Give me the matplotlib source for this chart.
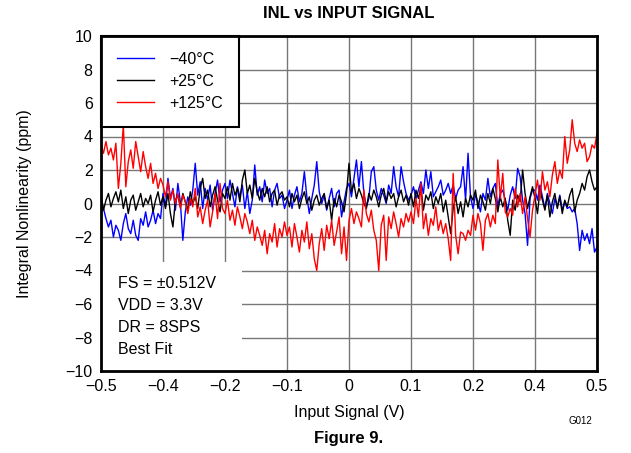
import numpy as np
import matplotlib
matplotlib.use("Agg")
import matplotlib.pyplot as plt
from matplotlib.patches import Rectangle

plt.rcParams['font.family'] = ['Liberation Sans', 'DejaVu Sans']

# ---------------- data ----------------
x_min, x_max = -0.5, 0.5
xtick_labels = ['\u22120.5', '\u22120.4', '\u22120.2', '\u22120.1', '0', '0.1', '0.2', '0.4', '0.5']
ytick_values = [10, 8, 6, 4, 2, 0, -2, -4, -6, -8, -10]
series_names = ['\u221240\u00b0C', '+25\u00b0C', '+125\u00b0C']

inl_m40 = [
    0.2, -0.3, -0.9, -1.4, -1.0, -2.0, -1.3, -1.6, -2.2, -1.2, -0.6, -1.5, -1.8, -1.0, -1.9, -2.2, -0.9, -1.3, -0.5, -1.4, -1.0, -0.4, -1.2, -0.6, -0.9,
    0.6, -0.2, 1.5, 0.3, 0.9, -0.4, 1.2, 0.1, -2.2, -0.5, 0.4, -0.1, 0.8, 2.4, 0.5, 1.3, -0.3, 0.9, 0.2, 1.1, -0.4, 0.6, 1.4, 0.1, 0.8,
    1.2, 0.3, 1.4, 0.6, -0.2, 1.0, 0.4, 1.1, -0.3, 0.7, -0.6, 0.2, 2.3, 0.5, 1.0, 0.1, 1.4, 0.6, 0.9, -0.2, 0.8, 1.2, 0.3, 0.5, -0.3,
    0.2, 0.8, -0.3, 0.5, 1.0, 0.1, 0.6, 1.9, 0.4, -0.6, 0.3, 1.1, 2.5, 0.7, 0.0, 0.5, -0.4, 0.3, 0.9, -0.2, 0.6, 0.8, -0.8, 0.1, 0.9,
    1.2, 0.4, 1.5, 2.6, 1.0, 2.5, 0.6, -0.2, 0.3, 1.9, 2.2, 0.8, 0.2, 0.9, 0.5, 0.0, 1.1, 0.6, 2.2, 1.0, 0.4, 2.2, 1.3, 0.6, 0.2,
    0.5, 1.0, 0.3, 0.8, 1.3, 0.6, 2.0, 0.9, 1.9, 0.4, 0.7, 1.0, 1.4, 0.5, 0.8, 1.2, 0.6, 1.1, 0.3, 0.8, 1.0, 2.2, 0.2, 3.0, 0.4,
    -0.3, 0.5, 0.1, -0.5, 0.6, 0.2, 1.5, 0.4, 0.9, 1.2, -0.2, 0.6, 0.8, 0.2, -0.4, 0.5, 1.0, 0.3, 2.1, 1.6, 0.2, -0.6, -2.5, 0.3, 0.8,
    0.8, 0.2, 1.1, 0.4, -0.3, 0.6, 0.0, -0.6, 0.3, -0.2, 0.5, -0.4, 0.1, -0.3, -0.2, -0.5, -0.3, -1.2, -2.8, -1.6, -2.2, -1.8, -2.4, -1.5, -2.9,
    -2.6,
]

inl_p25 = [
    0.5, -0.4, 0.2, 0.6, -0.2, 0.3, 0.7, 0.1, 0.8, -0.3, 0.4, -0.6, 0.2, 0.5, -0.4, 0.1, 0.6, -0.2, 0.3, 0.0, 0.5, -0.5, 0.2, 0.7, -0.1,
    0.4, -0.3, 0.6, -0.6, -1.4, 0.2, 0.5, -0.2, 0.6, 0.1, -0.4, 0.7, 0.0, 0.4, -0.3, 0.9, 1.5, 0.3, 0.8, -0.2, 0.5, 1.0, 0.2, -0.5, 0.6,
    0.3, 1.0, 0.2, 1.2, 0.5, 0.9, 0.1, 1.4, 2.0, 0.6, 1.1, 0.3, 1.5, 0.7, 0.2, 0.9, 0.4, 1.0, 0.1, 0.6, 0.8, -0.1, 0.5, 0.7, 0.2,
    0.4, -0.2, 0.6, 0.1, 0.5, -0.3, 0.3, 0.7, 0.0, 0.4, -0.4, 0.2, 0.5, -0.1, 0.3, 0.6, -0.3, 0.2, -1.0, 0.3, -0.2, 0.5, 0.1, -0.5, 0.6,
    2.4, 0.7, 1.2, 0.3, 0.9, 0.5, 0.0, -0.3, 0.6, 0.2, 0.8, 0.4, -0.2, 0.5, 0.9, 0.1, 0.7, 0.3, 0.6, -0.2, 0.4, 0.8, 0.1, 0.5, -0.1,
    0.6, -0.2, 0.8, 0.3, 1.0, -0.4, 0.5, 0.2, 0.7, -0.3, 0.4, 0.0, 0.6, -0.5, 0.2, -0.8, -1.8, -0.3, 0.4, -0.6, 0.1, -0.8, 0.3, -0.2, 0.5,
    0.2, 0.8, -0.3, 0.5, 0.1, -0.4, 0.6, 0.0, 0.9, 0.3, -0.5, 0.4, -0.2, 0.3, -1.0, -1.9, 0.2, -0.4, 0.5, 0.1, 2.0, 0.6, -0.3, 0.4, 1.0,
    0.3, -0.6, 0.8, 0.2, -0.4, 0.5, -0.8, 0.1, 0.6, -0.3, 0.4, -0.6, 0.2, -0.2, 0.5, 0.9, -0.5, 0.2, 0.6, 1.2, 0.8, 1.6, 2.0, 1.3, 0.8,
    1.0,
]

inl_p125 = [
    3.5, 3.0, 3.7, 2.9, 3.3, 2.6, 3.6, 0.9, 2.4, 4.7, 1.0, 2.5, 3.2, 2.1, 3.7, 2.8, 1.9, 3.1, 2.2, 1.5, 2.4, 1.2, 1.8, 0.9, 1.5,
    1.1, 0.4, 1.3, 0.2, 0.8, 0.0, 0.6, -0.3, 0.5, 0.1, -0.6, 0.3, -0.2, 0.9, -0.8, -0.2, -1.2, -0.4, 0.2, -1.4, -0.5, 0.6, -0.9, 1.2, -0.3,
    -0.6, 0.2, -1.0, -0.4, -1.3, -0.2, -0.8, -1.5, -0.6, -1.1, -1.8, -1.0, -2.2, -1.4, -1.9, -2.5, -1.6, -3.0, -1.8, -2.3, -1.2, -2.6, -1.5, -2.0, -1.1,
    -1.9, -1.4, -2.6, -1.2, -2.0, -2.9, -1.6, -2.3, -1.1, -2.7, -1.8, -3.3, -4.0, -2.4, -1.5, -2.8, -1.3, -2.1, -1.0, -2.5, -1.7, -0.8, -3.0, -1.4, -3.4,
    -1.0, -0.3, -1.2, -0.5, -0.9, -1.4, 0.8, -0.6, -1.1, -0.4, -1.6, -2.2, -4.0, -1.3, -0.7, -3.4, -0.8, -1.5, -0.5, -1.2, -2.0, -0.9, -1.4, -0.6, -1.1,
    -0.5, -1.2, 0.3, -0.8, 1.2, -1.5, -0.6, -1.9, -0.9, -1.3, -0.2, -1.6, -1.0, -1.8, -1.2, -2.1, -3.4, 1.8, -1.9, -3.0, -1.7, -1.8, -2.2, -1.6, -1.9,
    -0.7, -1.6, -0.6, -1.2, -2.8, -1.0, -0.6, -1.4, -0.7, -1.2, 2.6, 0.3, 1.8, -0.5, -0.8, -0.3, -0.7, 0.9, -0.2, 0.6, -0.6, 0.4, -0.9, -2.0, -0.4,
    0.5, 1.4, 0.2, 1.9, 0.8, 1.3, 0.4, 1.7, 2.5, 1.2, 2.0, 1.5, 4.0, 2.4, 3.2, 5.0, 3.6, 3.1, 3.8, 3.3, 3.6, 2.5, 2.8, 3.5, 3.3,
    4.2,
]

series_values = [inl_m40, inl_p25, inl_p125]
series_colors = ['#0000ff', '#000000', '#ff0000']
annotation_lines = ['FS = \u00b10.512V', 'VDD = 3.3V', 'DR = 8SPS', 'Best Fit']

# ---------------- figure ----------------
W, H = 631, 453
fig = plt.figure(figsize=(W / 100, H / 100), dpi=100)
ax_l, ax_r, ax_t, ax_b = 101, 597, 36, 371
ax = fig.add_axes([ax_l / W, 1 - ax_b / H, (ax_r - ax_l) / W, (ax_b - ax_t) / H])

fs = 11.5
for vals, col, name in zip(series_values, series_colors, series_names):
    xs = np.linspace(x_min, x_max, len(vals))
    ax.plot(xs, vals, color=col, lw=1.0, label=name, zorder=3)

ax.set_xlim(x_min, x_max)
ax.set_ylim(-10, 10)
ax.set_xticks(np.linspace(x_min, x_max, len(xtick_labels)))
ax.set_xticklabels(xtick_labels)
ax.set_yticks(ytick_values)
ax.set_yticklabels([('\u2212' + str(-v)) if v < 0 else str(v) for v in ytick_values])
ax.tick_params(length=0, labelsize=fs, pad=6)
ax.grid(True, color='#777777', lw=1.0, zorder=1)
ax.set_axisbelow(True)
for s in ax.spines.values():
    s.set_linewidth(2.0)
    s.set_color('black')
    s.set_zorder(10)

# annotation box (white, covering grid)
box_w = (242 - ax_l) / (ax_r - ax_l)
box_h = (ax_b - 262) / (ax_b - ax_t)
ax.add_patch(Rectangle((0, 0), box_w, box_h, transform=ax.transAxes,
                       facecolor='white', edgecolor='none', zorder=5))
for i, line in enumerate(annotation_lines):
    ypix = 284 + i * 22
    ax.text((118 - ax_l) / (ax_r - ax_l), (ax_b - ypix) / (ax_b - ax_t), line,
            transform=ax.transAxes, fontsize=fs, va='center', ha='left', zorder=6)

leg = ax.legend(loc='upper left', bbox_to_anchor=(0, 1), borderaxespad=0,
                fancybox=False, framealpha=1, edgecolor='black', fontsize=fs,
                handlelength=2.3, handletextpad=1.0, labelspacing=0.43,
                borderpad=1.0)
leg.get_frame().set_linewidth(1.5)
leg.set_zorder(8)

ax.set_ylabel('Integral Nonlinearity (ppm)', fontsize=fs, labelpad=24)
ax.set_xlabel('Input Signal (V)', fontsize=fs, labelpad=8)

fig.text(349 / W, 1 - 14 / H, 'INL vs INPUT SIGNAL', fontsize=12, fontweight='bold',
         ha='center', va='center')
fig.text(349 / W, 1 - 438 / H, 'Figure 9.', fontsize=12, fontweight='bold',
         ha='center', va='center')
fig.text(580 / W, 1 - 421 / H, 'G012', fontsize=7, ha='center', va='center')

fig.savefig('out.png', dpi=100)
